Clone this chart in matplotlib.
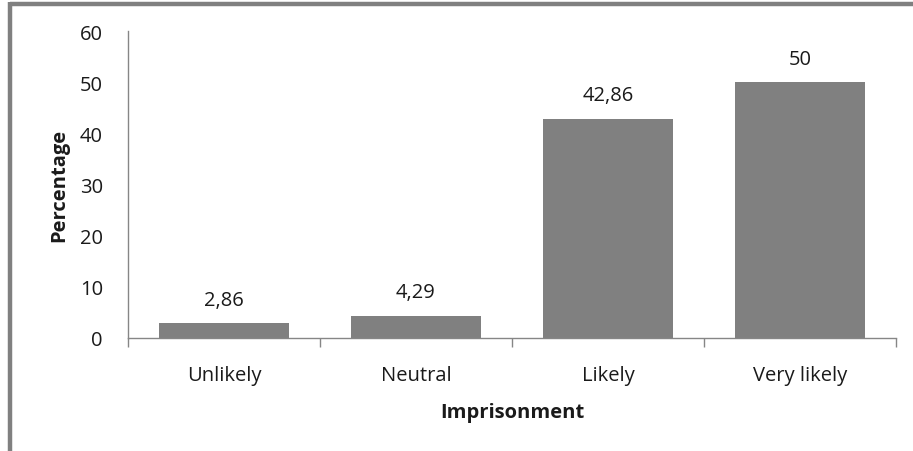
import matplotlib
matplotlib.use("Agg")
import matplotlib.pyplot as plt
from matplotlib.lines import Line2D
from matplotlib.ticker import FixedLocator

categories = ["Unlikely", "Neutral", "Likely", "Very likely"]
values = [2.86, 4.29, 42.86, 50]
value_labels = ["2,86", "4,29", "42,86", "50"]
y_ticks = [0, 10, 20, 30, 40, 50, 60]

plt.rcParams["font.family"] = ["Open Sans", "DejaVu Sans"]
W, H = 913, 452
fig = plt.figure(figsize=(W / 100, H / 100), dpi=100)
ax = fig.add_axes([128 / W, 1 - 339 / H, (896 - 128) / W, (339 - 32) / H])

axis_grey = "#868686"
text_col = "#1a1a1a"
fs = 14.5
x = list(range(len(categories)))
ax.bar(x, values, width=0.68, color="#808080", zorder=2)
for xi, v, lab in zip(x, values, value_labels):
    ax.annotate(lab, (xi, v), xytext=(0, 17), textcoords="offset points",
                ha="center", va="center", fontsize=fs, color=text_col)

ax.set_xlim(-0.5, len(categories) - 0.5)
ax.set_ylim(0, 60)
ax.set_yticks(y_ticks)
ax.set_xticks(x)
ax.set_xticklabels(categories)
ax.xaxis.set_minor_locator(FixedLocator([i - 0.5 for i in range(len(categories) + 1)]))
ax.tick_params(axis="x", which="major", length=0, pad=19.5, labelsize=fs, labelcolor=text_col)
ax.tick_params(axis="x", which="minor", length=6.5, width=1, color=axis_grey, direction="out")
ax.tick_params(axis="y", length=0, pad=18, labelsize=fs, labelcolor=text_col)

for s in ("top", "right"):
    ax.spines[s].set_visible(False)
for s in ("left", "bottom"):
    ax.spines[s].set_color(axis_grey)
    ax.spines[s].set_linewidth(1)

ax.set_ylabel("Percentage", fontsize=fs, fontweight="bold", labelpad=8, color=text_col)
ax.set_xlabel("Imprisonment", fontsize=fs, fontweight="bold", labelpad=12, color=text_col)

# partial outer frame
frame_grey = "#808080"
fig.add_artist(Line2D([10 / W, 1], [1 - 4.5 / H, 1 - 4.5 / H], transform=fig.transFigure,
                      color=frame_grey, linewidth=3.2, solid_capstyle="butt"))
fig.add_artist(Line2D([10 / W, 10 / W], [0, 1 - 3 / H], transform=fig.transFigure,
                      color=frame_grey, linewidth=3.2, solid_capstyle="butt"))

fig.savefig("out.png", dpi=100)
